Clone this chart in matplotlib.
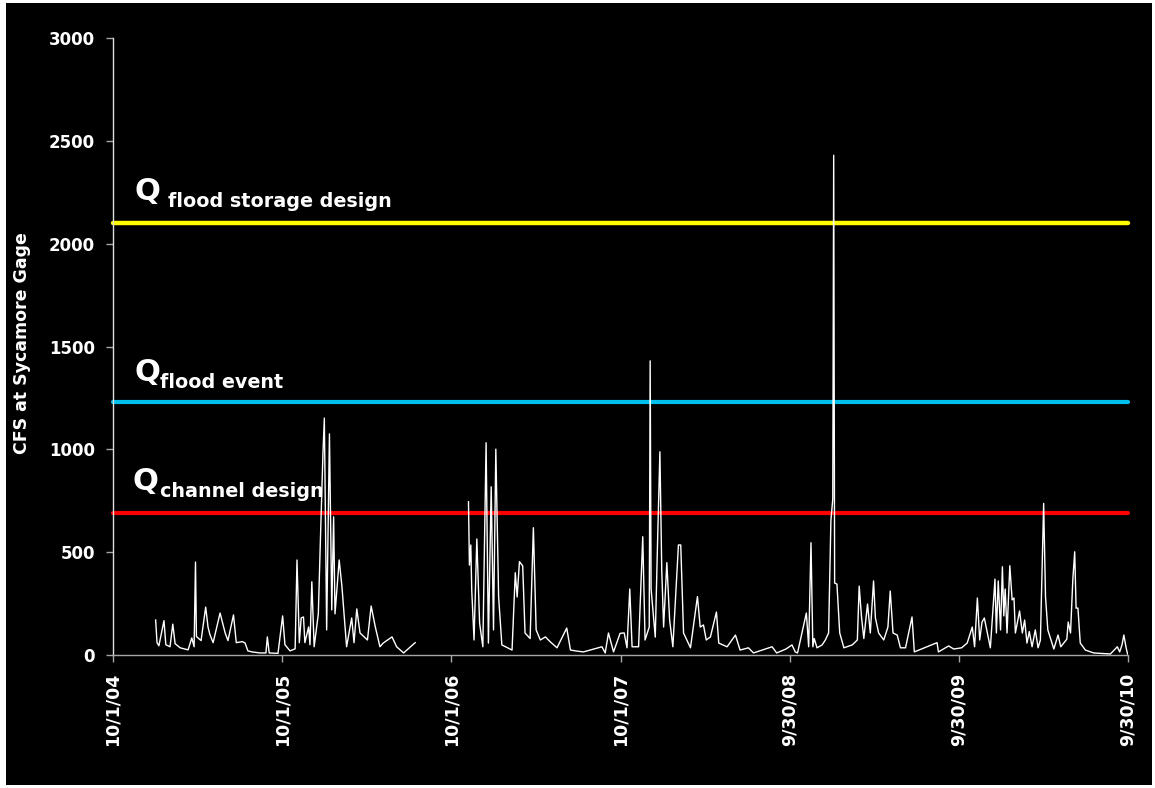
import matplotlib
matplotlib.use("Agg")
import matplotlib.pyplot as plt
from matplotlib.patches import Rectangle

# daily flow at Sycamore gage (days since 10/1/2004, cfs)
days_a = [92, 95, 99, 110, 114, 123, 129, 134, 145, 162,
          170, 175, 178, 180, 190, 200, 205, 209, 216, 231,
          242, 248, 260, 266, 279, 285, 291, 300, 317, 330,
          333, 337, 356, 366, 371, 382, 393, 397, 402, 406,
          411, 414, 422, 425, 429, 434, 443, 447, 453, 456,
          461, 467, 472, 476, 479, 488, 494, 504, 515, 520,
          526, 533, 549, 557, 566, 576, 583, 602, 612, 627,
          652]
cfs_a = [170, 60, 45, 167, 50, 40, 150, 55, 35, 25,
         83, 40, 452, 90, 70, 233, 136, 100, 60, 204,
         107, 70, 195, 60, 65, 58, 20, 15, 10, 10,
         88, 10, 8, 190, 50, 20, 30, 462, 60, 180,
         185, 60, 136, 50, 356, 40, 200, 520, 982, 1152,
         122, 1075, 219, 672, 200, 462, 332, 40, 180, 60,
         224, 107, 73, 238, 136, 40, 58, 88, 40, 10,
         60]

days_b = [767, 769, 772, 774, 779, 785, 791, 798, 805, 810,
          816, 821, 826, 832, 839, 861, 868, 872, 877, 884,
          889, 900, 907, 913, 922, 933, 943, 958, 979, 987,
          1001, 1015, 1055, 1062, 1069, 1080, 1094, 1100, 1103, 1109,
          1115, 1120, 1134, 1143, 1148, 1157, 1159, 1161, 1170, 1175,
          1180, 1184, 1188, 1195, 1201, 1208, 1220, 1225, 1231, 1246,
          1261, 1267, 1274, 1280, 1289, 1302, 1307, 1325, 1343, 1353,
          1371, 1382, 1422, 1432, 1452, 1465, 1472, 1477, 1496, 1501,
          1506, 1510, 1513, 1519, 1530, 1537, 1544, 1549, 1553, 1555,
          1557, 1562, 1568, 1577, 1595, 1606, 1610, 1615, 1620, 1628,
          1634, 1641, 1645, 1652, 1663, 1672, 1677, 1683, 1692, 1699,
          1710, 1724, 1729, 1778, 1781, 1803, 1814, 1831, 1843, 1854,
          1859, 1865, 1870, 1875, 1880, 1886, 1893, 1903, 1906, 1910,
          1915, 1919, 1922, 1925, 1929, 1935, 1940, 1944, 1947, 1956,
          1962, 1967, 1972, 1977, 1983, 1990, 1996, 2001, 2008, 2012,
          2017, 2030, 2039, 2045, 2058, 2061, 2066, 2071, 2075, 2078,
          2082, 2087, 2098, 2116, 2152, 2167, 2172, 2177, 2181, 2186,
          2189]
cfs_b = [745, 437, 535, 316, 73, 564, 155, 40, 1032, 58,
         818, 122, 1001, 284, 49, 24, 400, 282, 454, 433,
         107, 80, 619, 122, 73, 88, 65, 35, 131, 24,
         19, 15, 40, 10, 107, 15, 105, 107, 107, 35,
         321, 40, 40, 575, 73, 136, 1430, 321, 87, 551,
         988, 413, 136, 449, 170, 40, 535, 535, 107, 35,
         284, 136, 146, 73, 88, 209, 58, 40, 97, 24,
         35, 10, 40, 10, 29, 49, 15, 10, 204, 40,
         546, 40, 80, 35, 49, 73, 107, 656, 758, 2430,
         350, 345, 107, 35, 49, 73, 335, 185, 80, 248,
         107, 360, 180, 107, 73, 136, 311, 107, 97, 35,
         35, 185, 15, 60, 15, 44, 29, 35, 58, 136,
         40, 277, 73, 160, 180, 114, 35, 369, 107, 360,
         122, 429, 190, 321, 107, 434, 268, 277, 107, 214,
         107, 170, 58, 114, 40, 122, 35, 73, 737, 284,
         122, 29, 97, 40, 77, 160, 107, 369, 502, 228,
         228, 58, 24, 10, 5, 40, 15, 49, 97, 35,
         5]

# design flows (cfs)
q_storage = 2100
q_event = 1230
q_channel = 690

tick_days = [0, 365, 730, 1095, 1460, 1825, 2190]
tick_labels = ["10/1/04", "10/1/05", "10/1/06", "10/1/07", "9/30/08", "9/30/09", "9/30/10"]
y_ticks = [0, 500, 1000, 1500, 2000, 2500, 3000]

plt.rcParams.update({
    "font.family": "DejaVu Sans",
    "font.weight": "bold",
    "axes.labelweight": "bold",
})

W, H = 1155, 788
fig = plt.figure(figsize=(W / 100, H / 100), dpi=100, facecolor="white")
# black slide background inside a thin white frame
fig.patches.append(Rectangle((6 / W, 3 / H), (W - 9) / W, (H - 6) / H,
                             transform=fig.transFigure, facecolor="black",
                             edgecolor="none", zorder=-10))

ax = fig.add_axes([113 / W, (H - 655) / H, (1128 - 113) / W, (655 - 38) / H])
ax.set_facecolor("black")

ax.axhline(q_storage, color="#ffff00", lw=3.2, solid_capstyle="round", clip_on=False, zorder=2)
ax.axhline(q_event, color="#00c0f0", lw=3.0, solid_capstyle="round", clip_on=False, zorder=2)
ax.axhline(q_channel, color="#ff0000", lw=3.0, solid_capstyle="round", clip_on=False, zorder=2)

ax.plot(days_a, cfs_a, color="white", lw=1.0, zorder=3)
ax.plot(days_b, cfs_b, color="white", lw=1.0, zorder=3)

ax.set_xlim(0, 2190)
ax.set_ylim(0, 3000)
ax.set_xticks(tick_days)
ax.set_xticklabels(tick_labels, rotation=90, fontsize=12.5, fontweight="bold", color="white")
ax.set_yticks(y_ticks)
ax.set_yticklabels([str(v) for v in y_ticks], fontsize=12, fontweight="bold", color="white")
ax.tick_params(axis="x", length=5, width=1, color="#a6a6a6", pad=8)
ax.tick_params(axis="y", length=5, width=1, color="#a6a6a6", pad=8)

for s in ("top", "right"):
    ax.spines[s].set_visible(False)
ax.spines["left"].set_color("#e0e0e0")
ax.spines["bottom"].set_color("#a6a6a6")
ax.spines["left"].set_linewidth(1)
ax.spines["bottom"].set_linewidth(1)

fig.text(22 / W, 1 - 343 / H, "CFS at Sycamore Gage", rotation=90, ha="center", va="center",
         fontsize=12.5, fontweight="bold", color="white")

# Q labels: big Q with smaller subscript-ish text
def q_label(xq, yq, xs, ys, sub):
    fig.text(xq / W, 1 - yq / H, "Q", fontsize=22, fontweight="bold", color="white",
             ha="left", va="baseline")
    fig.text(xs / W, 1 - ys / H, sub, fontsize=13.8, fontweight="bold", color="white",
             ha="left", va="baseline")

q_label(135, 200, 168, 207, "flood storage design")
q_label(135, 381, 160, 388, "flood event")
q_label(133, 490, 160, 497, "channel design")

fig.savefig("out.png", dpi=100, facecolor=fig.get_facecolor())
